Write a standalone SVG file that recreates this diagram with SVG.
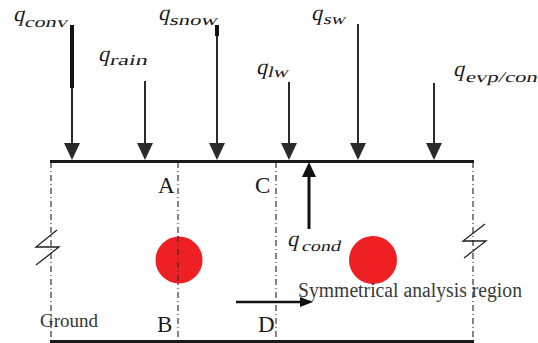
<svg xmlns="http://www.w3.org/2000/svg" width="538" height="343" viewBox="0 0 538 343">
<style>
.q{font-family:"Liberation Serif",serif;font-size:22px;fill:#1a1a1a}
.s{font-family:"Liberation Serif",serif;font-size:15px;fill:#1a1a1a}
.lbl{font-family:"Liberation Serif",serif;font-size:23px;fill:#1a1a1a}
.shaft{stroke:#2a2a2a;stroke-width:2;fill:none}
.dd{stroke:#333;stroke-width:1.2;stroke-dasharray:6 3 1 3;fill:none}
.brk{stroke:#222;stroke-width:1.3;fill:none}
.head{fill:#2a2a2a}
</style>
<rect width="538" height="343" fill="#fff"/>
<g id="boundary">
<line x1="51" y1="162" x2="51" y2="341" class="dd"/>
<line x1="473" y1="162" x2="473" y2="341" class="dd"/>
<line x1="178" y1="162" x2="178" y2="341" class="dd"/>
<line x1="276" y1="162" x2="276" y2="341" class="dd"/>
<line x1="50" y1="161.5" x2="474" y2="161.5" stroke="#1a1a1a" stroke-width="3"/>
<line x1="50" y1="341.5" x2="474" y2="341.5" stroke="#1a1a1a" stroke-width="3"/>
<polyline class="brk" points="57,230 36,247 59,247 36,265"/>
<polyline class="brk" points="485,224 463,241 486,241 464,258"/>
</g>
<g id="pipe-left"><circle cx="179" cy="260" r="23.5" fill="#ee2024"/><line x1="178" y1="236" x2="178" y2="284" class="dd"/></g>
<g id="pipe-right"><circle cx="373" cy="260" r="24" fill="#ee2024"/></g>
<g id="labels">
<text class="lbl" x="158" y="193">A</text>
<text class="lbl" x="157" y="332">B</text>
<text class="lbl" x="255" y="193">C</text>
<text class="lbl" x="258" y="332">D</text>
<text x="40" y="327" font-family="Liberation Serif, serif" font-size="19" fill="#333">Ground</text>
<text x="298" y="297" font-family="Liberation Serif, serif" font-size="20" fill="#3a3a3a" textLength="224" lengthAdjust="spacingAndGlyphs">Symmetrical analysis region</text>
</g>
<g id="q-conv"><text class="q" transform="translate(13,21) skewX(-14)">q</text><text class="s" transform="translate(24,27) skewX(-14)" textLength="43" lengthAdjust="spacingAndGlyphs">conv</text></g>
<g id="q-rain"><text class="q" transform="translate(98,61) skewX(-14)">q</text><text class="s" transform="translate(109,65) skewX(-14)" textLength="38" lengthAdjust="spacingAndGlyphs">rain</text></g>
<g id="q-snow"><text class="q" transform="translate(158,20) skewX(-14)">q</text><text class="s" transform="translate(169,25) skewX(-14)" textLength="48" lengthAdjust="spacingAndGlyphs">snow</text></g>
<g id="q-lw"><text class="q" transform="translate(256,74) skewX(-14)">q</text><text class="s" transform="translate(267,77) skewX(-14)" textLength="21" lengthAdjust="spacingAndGlyphs">lw</text></g>
<g id="q-sw"><text class="q" transform="translate(311,20) skewX(-14)">q</text><text class="s" transform="translate(323,24) skewX(-14)" textLength="22" lengthAdjust="spacingAndGlyphs">sw</text></g>
<g id="q-evp"><text class="q" transform="translate(453,76) skewX(-14)">q</text><text class="s" transform="translate(465,82) skewX(-14)" textLength="72" lengthAdjust="spacingAndGlyphs">evp/con</text></g>
<g id="q-cond"><text class="q" transform="translate(287,246) skewX(-14)">q</text><text class="s" transform="translate(301,251) skewX(-14)" textLength="39" lengthAdjust="spacingAndGlyphs">cond</text></g>
<g id="connectors">
<line x1="72" y1="88" x2="72" y2="145" class="shaft"/>
<line x1="72" y1="25" x2="72" y2="88" stroke="#111" stroke-width="4"/>
<polygon class="head" points="64,143 80,143 72,160"/>
<line x1="145" y1="81" x2="145" y2="145" class="shaft"/>
<polygon class="head" points="137,143 153,143 145,160"/>
<line x1="217" y1="36" x2="217" y2="145" class="shaft"/>
<line x1="217" y1="25" x2="217" y2="36" stroke="#111" stroke-width="4"/>
<polygon class="head" points="209,143 225,143 217,160"/>
<line x1="289" y1="82" x2="289" y2="145" class="shaft"/>
<polygon class="head" points="281,143 297,143 289,160"/>
<line x1="358" y1="24" x2="358" y2="145" class="shaft"/>
<polygon class="head" points="350,143 366,143 358,160"/>
<line x1="434" y1="83" x2="434" y2="145" class="shaft"/>
<polygon class="head" points="426,143 442,143 434,160"/>
<line x1="309" y1="229" x2="309" y2="176" stroke="#111" stroke-width="3"/>
<polygon points="302,177 316,177 309,162" fill="#111"/>
<line x1="236" y1="302" x2="302" y2="302" stroke="#111" stroke-width="2.5"/>
<polygon points="300,297 313,302 300,307" fill="#111"/>
</g>
</svg>
